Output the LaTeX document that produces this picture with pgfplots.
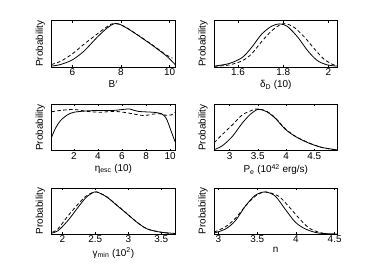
\documentclass[border=0pt]{standalone}
\usepackage{pgfplots}
\pgfplotsset{compat=1.18}
\usepackage{fontspec}
\setmainfont{Liberation Sans}
\begin{document}
\pgfplotsset{
  panel/.style={
    scale only axis, width=125pt, height=46.5pt, anchor=south west,
    ymin=0, ymax=1, ytick=\empty,
    tick align=inside, xtick pos=both, major tick length=2pt,
    axis line style={line width=0.5pt}, every tick/.style={black,line width=0.4pt},
    tick label style={font=\fontsize{10}{11}\selectfont},
    label style={font=\fontsize{10}{11}\selectfont},
    /pgf/number format/assume math mode=true,
    ylabel={Probability}, ylabel style={at={(axis description cs:0,0.5)},anchor=south, yshift=3pt},
    xticklabel style={inner sep=1.5pt},
    xlabel style={at={(axis description cs:0.5,0)},anchor=north, yshift=-12.5pt, inner sep=1pt},
  },
  sol/.style={black, line width=0.8pt, smooth, tension=0.5},
  das/.style={black, line width=0.8pt, dash pattern=on 3.5pt off 2.5pt, smooth, tension=0.5},
}
\begin{tikzpicture}
\useasboundingbox (0,0) rectangle (374pt,281pt);
% Panel 1: B'
\begin{axis}[panel, at={(49pt,213.7pt)}, xmin=5.14, xmax=10.24, xtick={6,8,10},
  xlabel={B$^{\prime}$}]
\addplot[sol] coordinates {(5.14,0.015) (5.52,0.05) (6.0,0.15) (6.48,0.34) (7.02,0.64) (7.43,0.84) (7.70,0.93) (7.9,0.93) (8.24,0.84) (8.79,0.65) (9.33,0.45) (9.88,0.23) (10.24,0.04)};
\addplot[das] coordinates {(5.14,0.05) (5.52,0.12) (6.0,0.28) (6.48,0.49) (7.02,0.71) (7.43,0.87) (7.63,0.93) (7.9,0.925) (8.24,0.845) (8.79,0.655) (9.33,0.46) (9.88,0.25) (10.12,0.19)};
\end{axis}
% Panel 2: delta_D
\begin{axis}[panel, at={(213pt,213.7pt)}, width=124pt, xmin=1.494, xmax=2.04, xtick={1.6,1.8,2},
  xticklabels={1.6,1.8,2}, xlabel={δ\textsubscript{D} (10)}]
\addplot[sol] coordinates {(1.494,0.015) (1.56,0.07) (1.618,0.2) (1.66,0.42) (1.705,0.71) (1.749,0.88) (1.785,0.93) (1.82,0.87) (1.865,0.64) (1.91,0.34) (1.953,0.13) (1.997,0.04) (2.04,0.015)};
\addplot[das] coordinates {(1.494,0.01) (1.56,0.04) (1.618,0.13) (1.66,0.28) (1.705,0.55) (1.749,0.78) (1.79,0.92) (1.815,0.93) (1.85,0.85) (1.895,0.64) (1.94,0.38) (1.98,0.17) (2.02,0.05) (2.04,0.03)};
\end{axis}
% Panel 3: eta_esc
\begin{axis}[panel, at={(49pt,129.3pt)}, xmin=0.14, xmax=10.44, xtick={2,4,6,8,10},
  xlabel={η\textsubscript{esc} (10)}]
\addplot[sol] coordinates {(0.14,0.28) (0.49,0.49) (0.9,0.65) (1.45,0.77) (2,0.83) (3.1,0.86) (4.2,0.87) (5.3,0.87) (6.4,0.9) (6.66,0.9) (7.34,0.85) (8.58,0.83) (9.26,0.80) (9.67,0.70) (10.08,0.42) (10.44,0.17)};
\addplot[das] coordinates {(0.14,0.84) (0.9,0.87) (2,0.89) (3.1,0.85) (4.2,0.83) (5.3,0.85) (6.4,0.82) (7.75,0.76) (8.58,0.79) (9.1,0.80) (9.5,0.77) (10.08,0.77) (10.44,0.84)};
\end{axis}
% Panel 4: P_e
\begin{axis}[panel, at={(213pt,129.3pt)}, width=124pt, xmin=2.725, xmax=4.91, xtick={3,3.5,4,4.5},
  xticklabels={3,3.5,4,4.5}, xlabel={P\textsubscript{e} (10\textsuperscript{42} erg/s)}]
\addplot[sol] coordinates {(2.725,0.02) (2.87,0.105) (3.05,0.31) (3.22,0.59) (3.37,0.79) (3.49,0.89) (3.545,0.89) (3.66,0.84) (3.81,0.70) (3.98,0.47) (4.16,0.31) (4.39,0.17) (4.63,0.07) (4.91,0.015)};
\addplot[das] coordinates {(2.725,0.17) (2.87,0.35) (3.05,0.56) (3.22,0.77) (3.37,0.86) (3.46,0.9) (3.545,0.895) (3.66,0.85) (3.81,0.71) (3.98,0.48) (4.16,0.315) (4.39,0.175) (4.63,0.07) (4.85,0.02)};
\end{axis}
% Panel 5: gamma_min
\begin{axis}[panel, at={(49pt,45.3pt)}, xmin=1.835, xmax=3.715, xtick={2,2.5,3,3.5},
  xticklabels={2,2.5,3,3.5}, xlabel={γ\textsubscript{min} (10\textsuperscript{2})}]
\addplot[sol] coordinates {(1.845,0.02) (1.935,0.07) (2.085,0.29) (2.235,0.57) (2.36,0.79) (2.485,0.91) (2.56,0.89) (2.685,0.79) (2.835,0.61) (2.985,0.43) (3.135,0.25) (3.285,0.11) (3.485,0.04) (3.715,0.01)};
\addplot[das] coordinates {(1.85,0.04) (1.935,0.11) (2.085,0.39) (2.235,0.64) (2.36,0.82) (2.485,0.91) (2.56,0.89) (2.685,0.795) (2.835,0.615) (2.985,0.435) (3.135,0.25) (3.285,0.11) (3.485,0.04) (3.65,0.01)};
\end{axis}
% Panel 6: n
\begin{axis}[panel, at={(213pt,45.3pt)}, width=124pt, xmin=2.945, xmax=4.534, xtick={3,3.5,4,4.5},
  xticklabels={3,3.5,4,4.5}, xlabel={n}]
\addplot[sol] coordinates {(2.945,0.02) (3.094,0.11) (3.22,0.29) (3.35,0.61) (3.477,0.84) (3.605,0.91) (3.733,0.82) (3.86,0.54) (3.99,0.26) (4.12,0.11) (4.29,0.02) (4.534,0.0)};
\addplot[das] coordinates {(2.945,0.04) (3.094,0.16) (3.22,0.34) (3.35,0.61) (3.477,0.82) (3.605,0.91) (3.775,0.82) (3.9,0.61) (4.03,0.36) (4.16,0.14) (4.29,0.04) (4.41,0.0)};
\end{axis}
\end{tikzpicture}
\end{document}
